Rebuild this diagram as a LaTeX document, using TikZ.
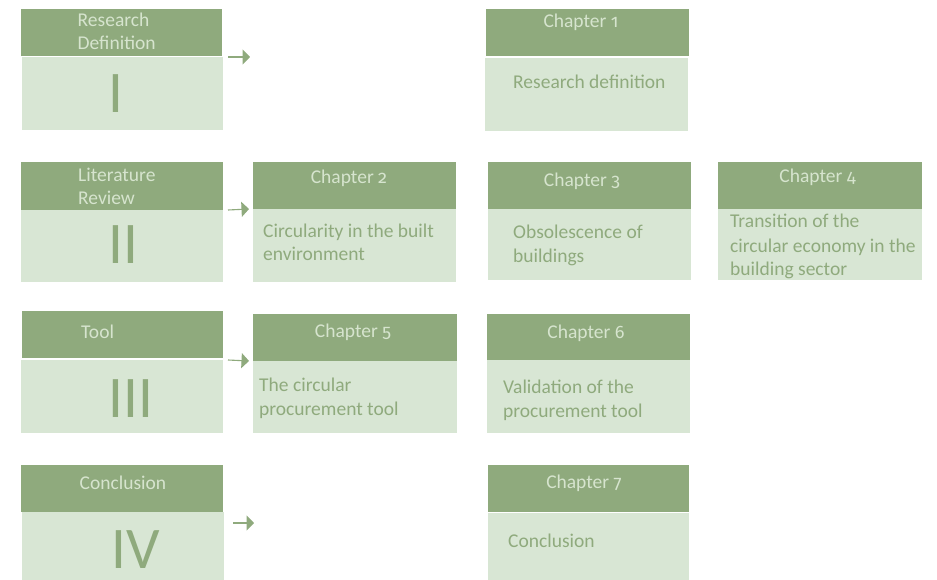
\documentclass[tikz,border=0pt]{standalone}
\usepackage{fontspec}
\setmainfont{Carlito}
% hanging figures for the chapter numbers
\newfontfamily\oldnum[Numbers=OldStyle]{Fira Sans}
\newcommand\chnum[1]{{\oldnum\fontsize{18}{23.5}\selectfont #1}}
\usetikzlibrary{arrows.meta}
\definecolor{hdrgreen}{RGB}{143,170,125}
\definecolor{bodygreen}{RGB}{216,230,212}
\definecolor{hdrtext}{RGB}{214,228,206}

\begin{document}
\begin{tikzpicture}[x=1pt,y=-1pt,
  tile/.style={draw=none, inner sep=0pt, outer sep=0pt, anchor=north west},
  hdr/.style={tile, fill=hdrgreen},
  bdy/.style={tile, fill=bodygreen},
  htxt/.style={text=hdrtext, inner sep=0pt, align=left,
    font=\fontsize{19.5}{23.5}\selectfont},
  btxt/.style={text=hdrgreen, inner sep=0pt, align=left, anchor=base west,
    font=\fontsize{19.5}{24}\selectfont},
  numeral/.style={text=hdrgreen, inner sep=0pt, anchor=base, text depth=0pt,
    font=\fontsize{59}{60}\selectfont},
  link/.style={draw=hdrgreen, line width=1.1pt,
    -{Triangle[length=7.5pt,width=15pt]}}]

% page
\path[use as bounding box, fill=white] (0,0) rectangle (937,580);

% multi-line labels are placed by the baseline of their last line

% ---- Part I: Research definition ----
\node[hdr, minimum width=201pt, minimum height=47pt] (hI) at (21,9) {};
\node[bdy, minimum width=201pt, minimum height=73pt] (bI) at (22,57) {};
\node[htxt, anchor=base west] (lI) at (77.5,50) {Research\\Definition};
\node[numeral] (nI) at (116,113) {I};

\node[hdr, minimum width=203pt, minimum height=47pt] (hC1) at (486,9) {};
\node[bdy, minimum width=203pt, minimum height=73pt] (bC1) at (485,58) {};
\node[htxt, anchor=base] (lC1) at (581,28) {Chapter \chnum{1}};
\node[btxt] (tC1) at (513,89) {Research definition};

\coordinate (aI) at ([xshift=5pt]bI.north east);
\coordinate (zI) at ([xshift=27pt]bI.north east);
\draw[link] (aI) -- (zI);

% ---- Part II: Literature review ----
\node[hdr, minimum width=202pt, minimum height=48pt] (hII) at (21,162) {};
\node[bdy, minimum width=202pt, minimum height=72pt] (bII) at (21,210) {};
\node[htxt, anchor=base west] (lII) at (78,204.5) {Literature\\Review};
\node[numeral] (nII) at (123,263) {II};

\node[hdr, minimum width=203pt, minimum height=47pt] (hC2) at (253,162) {};
\node[bdy, minimum width=203pt, minimum height=73pt] (bC2) at (253,209) {};
\node[htxt, anchor=base] (lC2) at (349,184) {Chapter \chnum{2}};
\node[btxt] (tC2) at (263,261) {Circularity in the built\\environment};

\node[hdr, minimum width=203pt, minimum height=47pt] (hC3) at (488,162) {};
\node[bdy, minimum width=203pt, minimum height=71pt] (bC3) at (488,209) {};
\node[htxt, anchor=base] (lC3) at (582,187) {Chapter \chnum{3}};
\node[btxt] (tC3) at (513,262) {Obsolescence of\\buildings};

\node[hdr, minimum width=204pt, minimum height=47pt] (hC4) at (718,162) {};
\node[bdy, minimum width=204pt, minimum height=71pt] (bC4) at (718,209) {};
\node[htxt, anchor=base] (lC4) at (817.5,183) {Chapter \chnum{4}};
\node[btxt] (tC4) at (730,276) {Transition of the\\circular economy in the\\building sector};

\coordinate (aII) at ([xshift=5pt]bII.north east);
\coordinate (zII) at ([xshift=-4pt]bC2.north west);
\draw[link] (aII) -- (zII);

% ---- Part III: Tool ----
\node[hdr, minimum width=201pt, minimum height=47pt] (hIII) at (22,311) {};
\node[bdy, minimum width=202pt, minimum height=73pt] (bIII) at (21,360) {};
\node[htxt, anchor=base west] (lIII) at (81,338) {Tool};
\node[numeral] (nIII) at (131,417) {III};

\node[hdr, minimum width=204pt, minimum height=47pt] (hC5) at (253,314) {};
\node[bdy, minimum width=204pt, minimum height=72pt] (bC5) at (253,361) {};
\node[htxt, anchor=base] (lC5) at (353,337) {Chapter \chnum{5}};
\node[btxt] (tC5) at (259,415) {The circular\\procurement tool};

\node[hdr, minimum width=203pt, minimum height=46pt] (hC6) at (487,314) {};
\node[bdy, minimum width=203pt, minimum height=73pt] (bC6) at (487,360) {};
\node[htxt, anchor=base] (lC6) at (586,338) {Chapter \chnum{6}};
\node[btxt] (tC6) at (503,417) {Validation of the\\procurement tool};

\coordinate (aIII) at ([xshift=5pt]bIII.north east);
\coordinate (zIII) at ([xshift=-4pt]bC5.north west);
\draw[link] (aIII) -- (zIII);

% ---- Part IV: Conclusion ----
\node[hdr, minimum width=202pt, minimum height=47pt] (hIV) at (21,465) {};
\node[bdy, minimum width=202pt, minimum height=68pt] (bIV) at (22,512) {};
\node[htxt, anchor=base] (lIV) at (123,489) {Conclusion};
\node[numeral] (nIV) at (135.5,568) {IV};

\node[hdr, minimum width=201pt, minimum height=47pt] (hC7) at (488,465) {};
\node[bdy, minimum width=201pt, minimum height=67pt] (bC7) at (488,513) {};
\node[htxt, anchor=base] (lC7) at (584,488) {Chapter \chnum{7}};
\node[btxt] (tC7) at (508,547) {Conclusion};

\coordinate (aIV) at ([shift={(9pt,-11pt)}]bIV.north east);
\coordinate (zIV) at ([shift={(30pt,-11pt)}]bIV.north east);
\draw[link] (aIV) -- (zIV);
\end{tikzpicture}
\end{document}
